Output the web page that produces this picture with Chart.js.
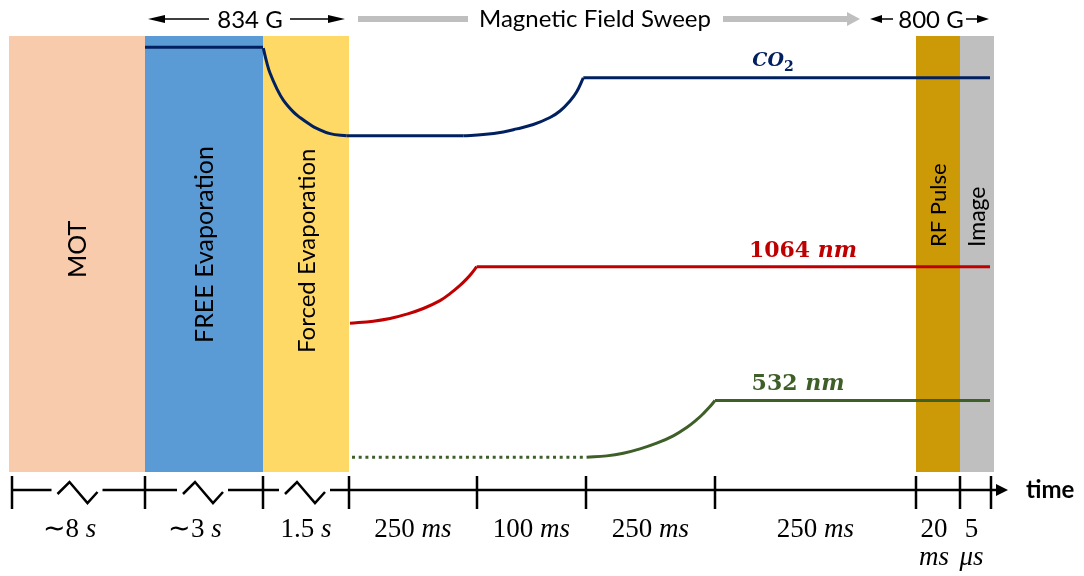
<!DOCTYPE html>
<html>
<head>
<meta charset="utf-8">
<script src="https://cdn.jsdelivr.net/npm/chart.js@4.4.0/dist/chart.umd.min.js"></script>
<style>
  html, body { margin: 0; padding: 0; background: #fff; }
  #wrap { width: 1084px; height: 576px; }
</style>
</head>
<body>
<div id="wrap"><canvas id="seq" width="1084" height="576"></canvas></div>
<script>
// Time axis segments (schematic units, not to scale)
const segEdges = [0, 136, 254, 340, 468, 577, 706, 907, 951, 985];
const segNumbers = ['∼8', '∼3', '1.5', '250', '100', '250', '250', '20', '5'];
const segUnits = ['s', 's', 's', 'ms', 'ms', 'ms', 'ms', 'ms', 'μs'];

// Experiment phases shaded behind the traces
const phaseNames = ['MOT', 'FREE Evaporation', 'Forced Evaporation', 'RF Pulse', 'Image'];
const phaseStart = [0, 136, 254, 907, 951];
const phaseEnd = [136, 254, 340, 951, 985];
const phaseColors = ['#F8CBAD', '#5B9BD5', '#FFD966', '#CC9A06', '#BFBFBF'];

// CO2 trap power
const co2Hold = [{x: 136, y: 97.4}, {x: 254, y: 97.4}];
const co2Evap = [{x: 254.3, y: 97.2}, {x: 257.7, y: 94.0}, {x: 261, y: 91.5}, {x: 267.7, y: 88.0},
                 {x: 274.3, y: 85.3}, {x: 284.3, y: 82.6}, {x: 291, y: 81.3}, {x: 301, y: 79.7},
                 {x: 307.7, y: 78.8}, {x: 321, y: 77.6}, {x: 337.7, y: 77.1}];
const co2Low = [{x: 337.7, y: 77.1}, {x: 454.3, y: 77.1}];
const co2Ramp = [{x: 454.3, y: 77.1}, {x: 474.3, y: 77.4}, {x: 494.3, y: 78.0}, {x: 507.7, y: 78.7},
                 {x: 524.3, y: 79.7}, {x: 541, y: 81.3}, {x: 551, y: 82.8}, {x: 561, y: 85.1},
                 {x: 567.7, y: 87.2}, {x: 574.3, y: 90.4}];
const co2High = [{x: 574.3, y: 90.4}, {x: 981, y: 90.4}];

// 1064 nm lattice power
const irRamp = [{x: 341, y: 34.1}, {x: 364.3, y: 34.6}, {x: 381, y: 35.2}, {x: 397.7, y: 36.2},
                {x: 414.3, y: 37.5}, {x: 431, y: 39.3}, {x: 441, y: 40.9}, {x: 451, y: 42.8},
                {x: 457.7, y: 44.3}, {x: 462.7, y: 45.6}, {x: 467.7, y: 47.1}];
const irHigh = [{x: 467.7, y: 47.1}, {x: 981, y: 47.1}];

// 532 nm lattice power
const greenOff = [{x: 343, y: 3.4}, {x: 577.7, y: 3.4}];
const greenRamp = [{x: 577.7, y: 3.4}, {x: 597.7, y: 3.7}, {x: 614.3, y: 4.3}, {x: 631, y: 5.3},
                   {x: 647.7, y: 6.6}, {x: 664.3, y: 8.3}, {x: 677.7, y: 10.2}, {x: 687.7, y: 12.0},
                   {x: 694.3, y: 13.4}, {x: 701, y: 15.0}, {x: 706, y: 16.4}];
const greenHigh = [{x: 706, y: 16.4}, {x: 981, y: 16.4}];

const NAVY = '#002060', RED = '#C00000', GREEN = '#3F5F28';

function trace(data, color, curved, dash) {
  return {
    data, borderColor: color, borderWidth: 3, pointRadius: 0, fill: false,
    tension: curved ? 0.4 : 0,
    borderDash: dash || [], borderCapStyle: 'butt', order: 0,
  };
}

const datasets = [
  trace(co2Hold, NAVY), trace(co2Evap, NAVY, true), trace(co2Low, NAVY),
  trace(co2Ramp, NAVY, true), trace(co2High, NAVY),
  trace(irRamp, RED, true), trace(irHigh, RED),
  trace(greenOff, GREEN, false, [3, 3.7]), trace(greenRamp, GREEN, true), trace(greenHigh, GREEN),
];
phaseNames.forEach((name, i) => {
  datasets.push({
    data: [{x: phaseStart[i], y: 100}, {x: phaseEnd[i], y: 100}],
    backgroundColor: phaseColors[i], borderWidth: 0, pointRadius: 0,
    fill: 'origin', order: 1,
  });
});

// draw text made of runs with different fonts, centred on cx
function drawRuns(ctx, runs, cx, base) {
  let total = 0;
  runs.forEach(r => { ctx.font = r.font; r.w = ctx.measureText(r.text).width; total += r.w; });
  let xx = cx - total / 2;
  runs.forEach(r => { ctx.font = r.font; ctx.fillText(r.text, xx, base + (r.dy || 0)); xx += r.w; });
}

function arrowHead(ctx, tipX, tipY, dir, len, half) {
  ctx.beginPath();
  ctx.moveTo(tipX, tipY);
  ctx.lineTo(tipX - dir * len, tipY - half);
  ctx.lineTo(tipX - dir * len, tipY + half);
  ctx.closePath();
  ctx.fill();
}

// rotated phase labels: start height (y units) and font size
const phaseLabelY = [44.5, 29.6, 27.3, 51.6, 51.6];
const phaseLabelSize = [25, 25, 24, 22, 23];

const overlay = {
  id: 'overlay',
  afterDatasetsDraw(chart) {
    const {ctx, chartArea, scales: {x, y}} = chart;
    ctx.save();
    ctx.fillStyle = '#000';
    ctx.textBaseline = 'middle';
    ctx.textAlign = 'left';
    phaseNames.forEach((name, i) => {
      const cx = x.getPixelForValue((phaseStart[i] + phaseEnd[i]) / 2);
      ctx.font = phaseLabelSize[i] + 'px Lato';
      ctx.save();
      ctx.translate(cx, y.getPixelForValue(phaseLabelY[i]));
      ctx.rotate(-Math.PI / 2);
      ctx.fillText(name, 0, 1);
      ctx.restore();
    });

    // trace labels
    ctx.textBaseline = 'alphabetic';
    ctx.fillStyle = NAVY;
    drawRuns(ctx, [
      {text: 'CO', font: 'italic bold 19px "DejaVu Serif"'},
      {text: '2', font: 'bold 14px "DejaVu Serif"', dy: 5},
    ], x.getPixelForValue(764), y.getPixelForValue(90.4) - 12);
    ctx.fillStyle = RED;
    drawRuns(ctx, [
      {text: '1064 ', font: 'bold 22px "DejaVu Serif"'},
      {text: 'nm', font: 'italic bold 22px "DejaVu Serif"'},
    ], x.getPixelForValue(794), y.getPixelForValue(47.1) - 10);
    ctx.fillStyle = GREEN;
    drawRuns(ctx, [
      {text: '532 ', font: 'bold 22px "DejaVu Serif"'},
      {text: 'nm', font: 'italic bold 22px "DejaVu Serif"'},
    ], x.getPixelForValue(789), y.getPixelForValue(16.4) - 10);

    // time axis below the plot
    const axisY = chartArea.bottom + 18;
    const px = segEdges.map(v => x.getPixelForValue(v));
    px[0] += 3;
    px[px.length - 1] -= 3;
    ctx.strokeStyle = '#000';
    ctx.fillStyle = '#000';
    ctx.lineWidth = 2.5;
    ctx.beginPath();
    let from = px[0];
    for (let i = 0; i < 3; i++) {
      const c = (px[i] + px[i + 1]) / 2;
      ctx.moveTo(from, axisY); ctx.lineTo(c - 27, axisY);
      ctx.moveTo(c - 21, axisY + 4);
      ctx.lineTo(c - 9, axisY - 8);
      ctx.lineTo(c + 9, axisY + 13);
      ctx.lineTo(c + 19, axisY + 2);
      from = c + 24;
    }
    ctx.moveTo(from, axisY); ctx.lineTo(1000, axisY);
    px.forEach(p => { ctx.moveTo(p, axisY - 14); ctx.lineTo(p, axisY + 19); });
    ctx.stroke();
    arrowHead(ctx, 1008, axisY, 1, 12, 6);

    ctx.font = 'bold 24px Lato';
    ctx.textBaseline = 'middle';
    ctx.fillText('time', 1026, axisY);

    ctx.textBaseline = 'alphabetic';
    const serif = '27px "Liberation Serif"';
    segNumbers.forEach((num, i) => {
      const c = (px[i] + px[i + 1]) / 2;
      if (i < 7) {
        // the two approximate durations sit a little left of centre
        const nudge = i < 2 ? -9 : 0;
        drawRuns(ctx, [
          {text: num + ' ', font: serif},
          {text: segUnits[i], font: 'italic ' + serif},
        ], c + nudge, axisY + 47);
      } else {
        drawRuns(ctx, [{text: num, font: serif}], c - 4, axisY + 47);
        drawRuns(ctx, [{text: segUnits[i], font: 'italic ' + serif}], c - 4, axisY + 75);
      }
    });

    // field annotations above the plot
    const topY = 19;
    ctx.font = '24px Lato';
    ctx.textAlign = 'center';
    ctx.textBaseline = 'middle';
    ctx.lineWidth = 1.6;
    const hold0 = x.getPixelForValue(136), hold1 = x.getPixelForValue(340);
    ctx.fillText('834 G', (hold0 + hold1) / 2 + 3, topY + 1);
    ctx.beginPath();
    ctx.moveTo(hold0 + 14, topY); ctx.lineTo(hold0 + 64, topY);
    ctx.moveTo(hold0 + 145, topY); ctx.lineTo(hold1 - 14, topY);
    ctx.stroke();
    arrowHead(ctx, hold0 + 3, topY, -1, 17, 4);
    arrowHead(ctx, hold1 - 4, topY, 1, 17, 4);

    ctx.fillText('Magnetic Field Sweep', 595, topY);
    ctx.fillStyle = '#BFBFBF';
    ctx.fillRect(358, topY - 3, 110, 6);
    ctx.fillRect(723, topY - 3, 124, 6);
    arrowHead(ctx, 860, topY, 1, 13, 7);

    ctx.fillStyle = '#000';
    ctx.fillText('800 G', 931, topY + 1);
    ctx.beginPath();
    ctx.moveTo(880, topY); ctx.lineTo(893, topY);
    ctx.moveTo(966, topY); ctx.lineTo(978, topY);
    ctx.stroke();
    arrowHead(ctx, 870, topY, -1, 12, 4);
    arrowHead(ctx, 989, topY, 1, 12, 4);
    ctx.restore();
  }
};

new Chart(document.getElementById('seq'), {
  type: 'line',
  data: {datasets},
  options: {
    responsive: false,
    animation: false,
    devicePixelRatio: 1,
    layout: {padding: {left: 9, right: 90, top: 36, bottom: 104}},
    scales: {
      x: {type: 'linear', min: 0, max: 985, display: false},
      y: {min: 0, max: 100, display: false},
    },
    plugins: {legend: {display: false}, tooltip: {enabled: false}},
  },
  plugins: [overlay],
});
</script>
</body>
</html>
